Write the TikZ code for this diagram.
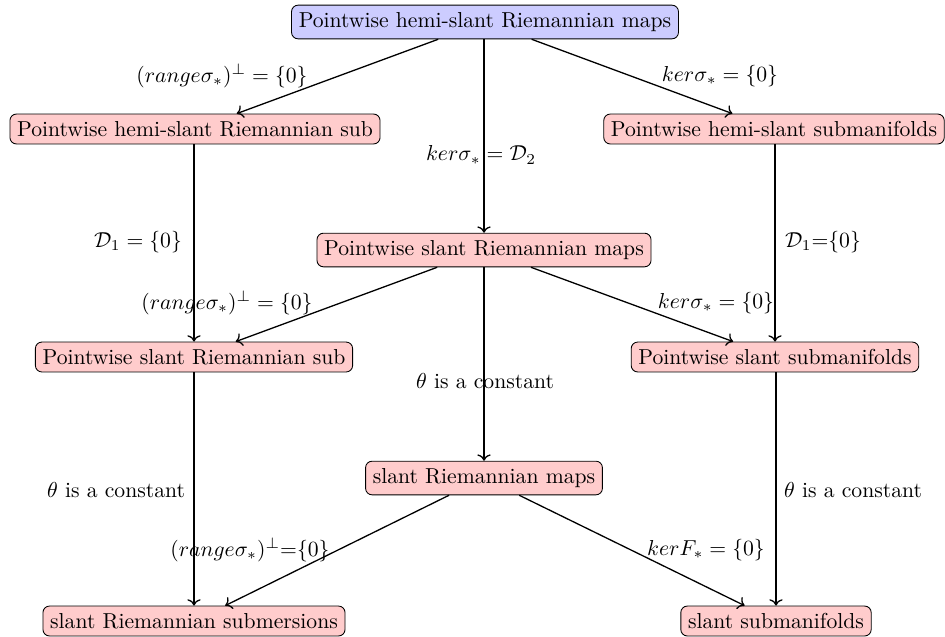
\documentclass[tikz,border=0pt]{standalone}
\usepackage{tikz}
\usetikzlibrary{arrows.meta}

\tikzset{
  topbox/.style={draw=black, fill=blue!20, rounded corners=3pt},
  subbox/.style={draw=black, fill=red!20, rounded corners=3pt},
  lbl/.style={inner sep=0pt}
}

\begin{document}
\begin{tikzpicture}[x=0.462pt,y=-0.462pt]
\useasboundingbox (0,0) rectangle (945,636);
\node[topbox] (phrm) at (485,22) {Pointwise hemi-slant Riemannian maps};
\node[subbox] (phrsub) at (195,129) {Pointwise hemi-slant Riemannian sub};
\node[subbox] (phsm) at (774,129) {Pointwise hemi-slant submanifolds};
\node[subbox] (psrm) at (484,250) {Pointwise slant Riemannian maps};
\node[subbox] (psrsub) at (194,357) {Pointwise slant Riemannian sub};
\node[subbox] (pssm) at (775,357) {Pointwise slant submanifolds};
\node[subbox] (srm) at (484,478) {slant Riemannian maps};
\node[subbox] (srsub) at (194,621) {slant Riemannian submersions};
\node[subbox] (ssm) at (776,621) {slant submanifolds};

\draw[->,semithick] (phrm) -- (phrsub);
\draw[->,semithick] (phrm) -- (phsm);
\draw[->,semithick] (phrm.south -| psrm) -- (psrm);
\draw[->,semithick] (phrsub.south -| psrsub) -- (psrsub);
\draw[->,semithick] (phsm.south -| pssm) -- (pssm);
\draw[->,semithick] (psrm) -- (psrsub);
\draw[->,semithick] (psrm) -- (pssm);
\draw[->,semithick] (psrm) -- (srm);
\draw[->,semithick] (psrsub) -- (srsub);
\draw[->,semithick] (pssm.south -| ssm) -- (ssm);
\draw[->,semithick] (srm) -- (srsub);
\draw[->,semithick] (srm) -- (ssm);

\node[lbl] (l1) at (222,76) {$(range\sigma_*)^\perp=\{0\}$};
\node[lbl] (l2) at (720,76) {$ker\sigma_*=\{0\}$};
\node[lbl] (l3) at (481,155) {$ker\sigma_*=\mathcal{D}_2$};
\node[lbl] (l4) at (138,242) {$\mathcal{D}_1=\{0\}$};
\node[lbl] (l5) at (823,242) {$\mathcal{D}_1{=}\{0\}$};
\node[lbl] (l6) at (227,303) {$(range\sigma_*)^\perp=\{0\}$};
\node[lbl] (l7) at (716,303) {$ker\sigma_*=\{0\}$};
\node[lbl] (l8) at (485,381) {$\theta$ is a constant};
\node[lbl] (l9) at (116,490) {$\theta$ is a constant};
\node[lbl] (l10) at (853,490) {$\theta$ is a constant};
\node[lbl] (l11) at (250,550) {$(range\sigma_*)^\perp{=}\{0\}$};
\node[lbl] (l12) at (706,550) {$kerF_*=\{0\}$};
\end{tikzpicture}
\end{document}
